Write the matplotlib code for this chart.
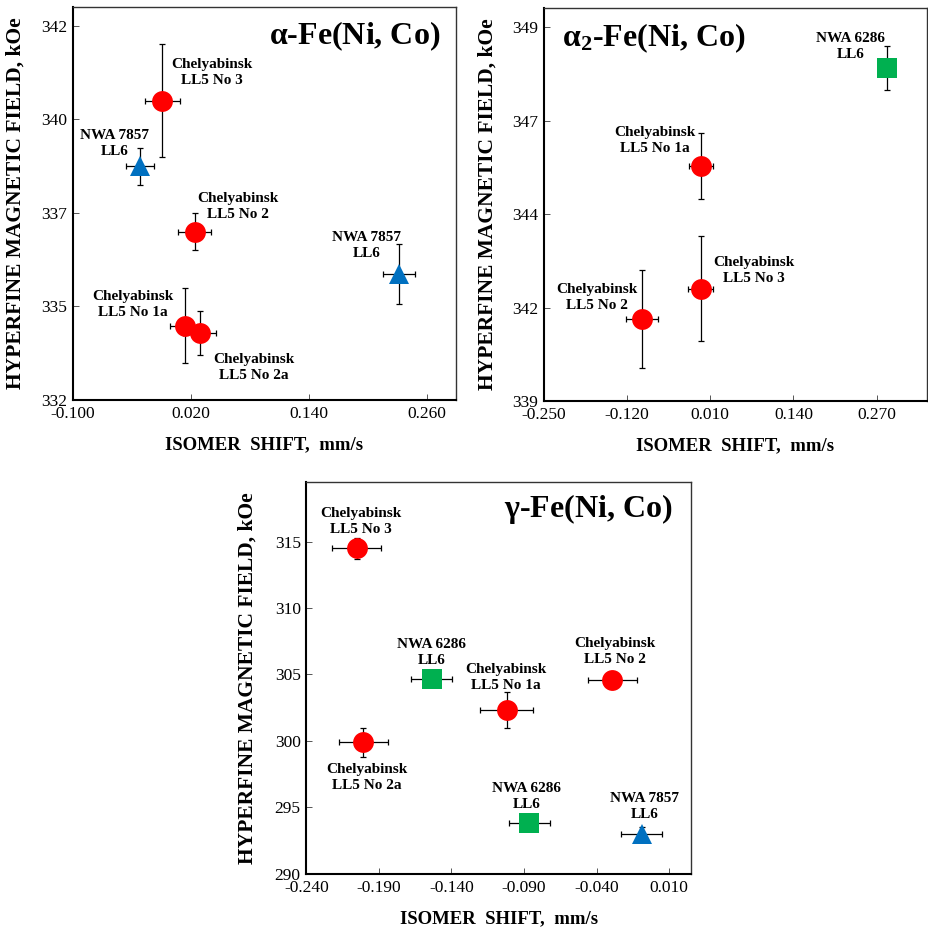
import matplotlib
import matplotlib.pyplot as plt

matplotlib.use("Agg")

plt.rcParams["font.family"] = ["Liberation Serif", "DejaVu Serif"]
plt.rcParams["mathtext.fontset"] = "custom"
plt.rcParams["mathtext.rm"] = "Liberation Serif"
plt.rcParams["mathtext.bf"] = "Liberation Serif:bold"

RED = "#FF0000"
BLUE = "#0070C0"
GREEN = "#00B050"

# --- alpha-Fe(Ni, Co) ---
a_names = ["Chelyabinsk\nLL5 No 3", "NWA 7857\nLL6", "Chelyabinsk\nLL5 No 2",
           "NWA 7857\nLL6", "Chelyabinsk\nLL5 No 1a", "Chelyabinsk\nLL5 No 2a"]
a_kind = ["c", "t", "c", "t", "c", "c"]
a_is = [-0.009, -0.032, 0.024, 0.232, 0.014, 0.029]
a_is_err = [0.018, 0.014, 0.017, 0.016, 0.015, 0.017]
a_hf = [340.0, 338.24, 336.5, 335.37, 333.99, 333.78]
a_hf_err = [1.5, 0.5, 0.49, 0.8, 1.0, 0.59]
a_lab = [(0.041, 340.76), (-0.058, 338.85), (0.068, 337.17),
         (0.199, 336.12), (-0.039, 334.55), (0.084, 332.86)]
a_xticks = [-0.100, 0.020, 0.140, 0.260]
a_yticks = [332, 334.5, 337, 339.5, 342]
a_ylabels = ["332", "335", "337", "340", "342"]

# --- alpha2-Fe(Ni, Co) ---
b_names = ["NWA 6286\nLL6", "Chelyabinsk\nLL5 No 1a", "Chelyabinsk\nLL5 No 3",
           "Chelyabinsk\nLL5 No 2"]
b_kind = ["s", "c", "c", "c"]
b_is = [0.286, -0.004, -0.005, -0.096]
b_is_err = [0.012, 0.019, 0.019, 0.025]
b_hf = [347.9, 345.29, 342.0, 341.2]
b_hf_err = [0.59, 0.89, 1.4, 1.31]
b_lab = [(0.2295, 348.47), (-0.076, 345.97), (0.078, 342.48), (-0.167, 341.76)]
b_xticks = [-0.250, -0.120, 0.010, 0.140, 0.270]
b_yticks = [339, 341.5, 344, 346.5, 349]
b_ylabels = ["339", "342", "344", "347", "349"]

# --- gamma-Fe(Ni, Co) ---
g_names = ["Chelyabinsk\nLL5 No 3", "NWA 6286\nLL6", "Chelyabinsk\nLL5 No 1a",
           "Chelyabinsk\nLL5 No 2", "Chelyabinsk\nLL5 No 2a", "NWA 6286\nLL6",
           "NWA 7857\nLL6"]
g_kind = ["c", "s", "c", "c", "c", "s", "t"]
g_is = [-0.2053, -0.1537, -0.102, -0.0293, -0.2007, -0.0864, -0.009]
g_is_err = [0.0168, 0.014, 0.018, 0.0169, 0.0171, 0.0143, 0.0142]
g_hf = [314.49, 304.64, 302.33, 304.61, 299.9, 293.83, 293.0]
g_hf_err = [0.8, 0.5, 1.32, 0.5, 1.07, 0.5, 0.5]
g_lab = [(-0.2023, 316.54), (-0.1535, 306.67), (-0.1025, 304.76),
         (-0.0276, 306.74), (-0.1984, 297.24), (-0.0883, 295.79),
         (-0.0072, 295.09)]
g_xticks = [-0.240, -0.190, -0.140, -0.090, -0.040, 0.010]
g_yticks = [290, 295, 300, 305, 310, 315]
g_ylabels = ["290", "295", "300", "305", "310", "315"]

MARKERS = {"c": ("o", RED, 15), "t": ("^", BLUE, 14.5), "s": ("s", GREEN, 14.5)}


def draw_panel(ax, names, kind, xs, xerr, ys, yerr, labs, xticks, yticks, ylabels,
               xlim, ylim, title, title_xy, title_ha, ylab_x):
    for i in range(len(xs)):
        m, col, ms = MARKERS[kind[i]]
        ax.errorbar(xs[i], ys[i], xerr=xerr[i], yerr=yerr[i], fmt="none",
                    ecolor="black", elinewidth=0.9, capsize=2.5, capthick=0.9, zorder=2)
        ax.plot(xs[i], ys[i], marker=m, color=col, markersize=ms, linestyle="none",
                markeredgewidth=0, zorder=3)
        ax.text(labs[i][0], labs[i][1], names[i], ha="center", va="center",
                fontsize=11, fontweight="bold", linespacing=1.3, zorder=4)
    ax.set_xlim(*xlim)
    ax.set_ylim(*ylim)
    ax.set_xticks(xticks)
    ax.set_xticklabels([f"{t:.3f}" for t in xticks])
    ax.set_yticks(yticks)
    ax.set_yticklabels(ylabels)
    ax.tick_params(direction="in", length=4, width=0.7, color="#555555",
                   labelsize=12.5)
    ax.tick_params(axis="x", pad=4)
    ax.tick_params(axis="y", pad=4)
    for s in ax.spines.values():
        s.set_linewidth(1.0)
        s.set_color("#333333")
    ax.spines["left"].set_linewidth(1.5)
    ax.spines["bottom"].set_linewidth(1.5)
    ax.spines["left"].set_color("black")
    ax.spines["bottom"].set_color("black")
    ax.set_xlabel("ISOMER  SHIFT,  mm/s", fontsize=13.5, fontweight="bold")
    ax.xaxis.set_label_coords(0.5, -0.093)
    ax.set_ylabel("HYPERFINE MAGNETIC FIELD, kOe", fontsize=15.5, fontweight="bold")
    ax.yaxis.set_label_coords(ylab_x, 0.5)
    ax.text(title_xy[0], title_xy[1], title, transform=ax.transAxes, ha=title_ha,
            va="center", fontsize=23, fontweight="bold")


fig = plt.figure(figsize=(9.29, 9.27), dpi=100)

ax1 = fig.add_axes([0.0786, 0.5685, 0.4123, 0.4239])
draw_panel(ax1, a_names, a_kind, a_is, a_is_err, a_hf, a_hf_err, a_lab,
           a_xticks, a_yticks, a_ylabels, (-0.1, 0.29), (332, 342.5),
           r"$\mathbf{\alpha}$-Fe(Ni, Co)", (0.958, 0.925), "right", -0.125)

ax2 = fig.add_axes([0.5852, 0.5674, 0.4129, 0.4236])
draw_panel(ax2, b_names, b_kind, b_is, b_is_err, b_hf, b_hf_err, b_lab,
           b_xticks, b_yticks, b_ylabels, (-0.25, 0.349), (339, 349.5),
           r"$\mathbf{\alpha_2}$-Fe(Ni, Co)", (0.047, 0.925), "left", -0.119)

ax3 = fig.add_axes([0.3297, 0.0572, 0.4141, 0.4232])
draw_panel(ax3, g_names, g_kind, g_is, g_is_err, g_hf, g_hf_err, g_lab,
           g_xticks, g_yticks, g_ylabels, (-0.24, 0.025), (290, 319.5),
           r"$\mathbf{\gamma}$-Fe(Ni, Co)", (0.953, 0.93), "right", -0.1256)

fig.savefig("out.png", dpi=100)
